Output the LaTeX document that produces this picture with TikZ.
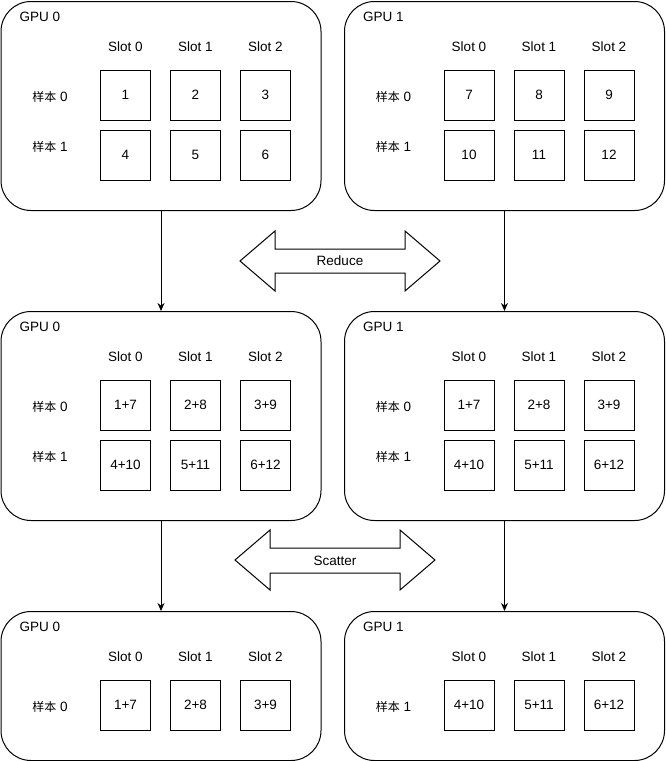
\documentclass[tikz,border=0pt]{standalone}
\usepackage{fontspec}
\setmainfont{Liberation Sans}
\newfontfamily\cjk{Noto Sans CJK SC}
\usetikzlibrary{arrows.meta}
\newcommand\mkpanel[5]{%
  \node[panel, minimum height=#4] (#1) at (#2,#3) {};
  \node[lbl, anchor=west] (#1-gpu) at (#2+19,#3+16) {GPU #5};
  \node[lbl] (#1-s0) at (#2+125,#3+46) {Slot 0};
  \node[lbl] (#1-s1) at (#2+195,#3+46) {Slot 1};
  \node[lbl] (#1-s2) at (#2+265,#3+46) {Slot 2};
}
\newcommand\mkrow[8]{%
  \node[lbl] (#1-l) at (#2+49.5,#3) {{\cjk\fontsize{12}{14}\selectfont 样本} #5};
  \node[cell] (#1-a) at (#2+125,#4) {#6};
  \node[cell] (#1-b) at (#2+195,#4) {#7};
  \node[cell] (#1-c) at (#2+265,#4) {#8};
}
\begin{document}
\begin{tikzpicture}[x=1pt,y=-1pt,
  panel/.style={draw, rounded corners=30pt, minimum width=320pt, inner sep=0pt, anchor=north west, line width=1pt},
  cell/.style={draw, minimum size=50pt, inner sep=0pt, line width=1pt, font=\fontsize{13.5}{15}\selectfont},
  lbl/.style={inner sep=0pt, font=\fontsize{13.5}{15}\selectfont},
  flow/.style={-{Stealth[length=8pt,width=7pt]}, line width=1pt},
  dbl/.style={draw, line width=1pt, line join=miter}
]
\useasboundingbox (0,0) rectangle (665,761);

% top
\mkpanel{p00}{0.5}{1}{209pt}{0}
\mkrow{p00r0}{0.5}{97}{95}{0}{1}{2}{3}
\mkrow{p00r1}{0.5}{147}{155}{1}{4}{5}{6}
\mkpanel{p01}{344}{1}{209pt}{1}
\mkrow{p01r0}{344}{97}{95}{0}{7}{8}{9}
\mkrow{p01r1}{344}{147}{155}{1}{10}{11}{12}

% middle
\mkpanel{p10}{0.5}{311}{209pt}{0}
\mkrow{p10r0}{0.5}{407}{405}{0}{1+7}{2+8}{3+9}
\mkrow{p10r1}{0.5}{457}{465}{1}{4+10}{5+11}{6+12}
\mkpanel{p11}{344}{311}{209pt}{1}
\mkrow{p11r0}{344}{407}{405}{0}{1+7}{2+8}{3+9}
\mkrow{p11r1}{344}{457}{465}{1}{4+10}{5+11}{6+12}

% bottom
\mkpanel{p20}{0.5}{611}{149pt}{0}
\mkrow{p20r0}{0.5}{707}{705}{0}{1+7}{2+8}{3+9}
\mkpanel{p21}{344}{611}{149pt}{1}
\mkrow{p21r0}{344}{707}{705}{1}{4+10}{5+11}{6+12}

% flows
\draw[flow] (p00.south) -- (p10.north);
\draw[flow] (p01.south) -- (p11.north);
\draw[flow] (p10.south) -- (p20.north);
\draw[flow] (p11.south) -- (p21.north);

% Reduce double arrow
\draw[dbl] (240,261) -- (275,231) -- (275,249) -- (405,249) -- (405,231) -- (440,261)
  -- (405,291) -- (405,273) -- (275,273) -- (275,291) -- cycle;
\node[lbl] (reduce) at (340,261) {Reduce};

% Scatter double arrow
\draw[dbl] (235,560) -- (270,530) -- (270,548) -- (400,548) -- (400,530) -- (435,560)
  -- (400,590) -- (400,573) -- (270,573) -- (270,590) -- cycle;
\node[lbl] (scatter) at (335,561) {Scatter};
\end{tikzpicture}
\end{document}
